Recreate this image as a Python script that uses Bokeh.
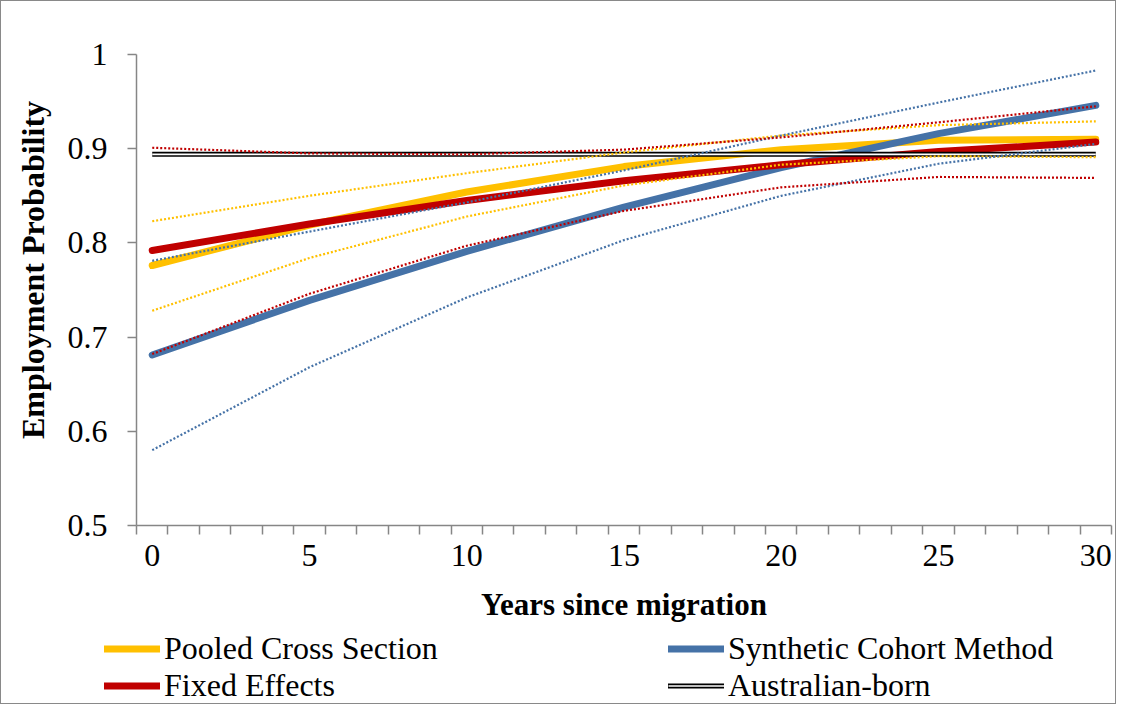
from bokeh.plotting import figure
from bokeh.models import Range1d, FixedTicker, Legend, LegendItem, ColumnDataSource
from bokeh.embed import file_html
from bokeh.resources import INLINE

# ---------------- data ----------------
years = [0, 5, 10, 15, 20, 25, 30]

pooled = [0.776, 0.819, 0.854, 0.881, 0.899, 0.909, 0.910]
pooled_hi = [0.823, 0.850, 0.874, 0.896, 0.914, 0.925, 0.929]
pooled_lo = [0.728, 0.784, 0.828, 0.861, 0.883, 0.892, 0.891]

synthetic = [0.681, 0.739, 0.791, 0.838, 0.880, 0.916, 0.946]
synthetic_hi = [0.781, 0.812, 0.843, 0.877, 0.914, 0.949, 0.983]
synthetic_lo = [0.580, 0.668, 0.742, 0.803, 0.850, 0.884, 0.905]

fixed = [0.792, 0.820, 0.845, 0.866, 0.883, 0.897, 0.907]
fixed_hi = [0.901, 0.895, 0.894, 0.899, 0.912, 0.928, 0.945]
fixed_lo = [0.682, 0.746, 0.797, 0.834, 0.859, 0.870, 0.869]

australian = [0.894, 0.894, 0.894, 0.894, 0.894, 0.894, 0.894]

x_tick_values = [0, 5, 10, 15, 20, 25, 30]
y_tick_values = [0.5, 0.6, 0.7, 0.8, 0.9, 1.0]
y_tick_labels = {0.5: "0.5", 0.6: "0.6", 0.7: "0.7", 0.8: "0.8", 0.9: "0.9", 1.0: "1"}

series_names = ["Pooled Cross Section", "Synthetic Cohort Method",
                "Fixed Effects", "Australian-born"]
x_title = "Years since migration"
y_title = "Employment Probability"

YELLOW = "#FFC000"
BLUE = "#4572A7"
RED = "#C00000"
AXIS = "#868686"
BORDER = "1px solid #898989"
FONT = "Liberation Serif"

src = ColumnDataSource(dict(
    x=years, pooled=pooled, pooled_hi=pooled_hi, pooled_lo=pooled_lo,
    synthetic=synthetic, synthetic_hi=synthetic_hi, synthetic_lo=synthetic_lo,
    fixed=fixed, fixed_hi=fixed_hi, fixed_lo=fixed_lo, australian=australian,
))

# ---------------- chart ----------------
p = figure(width=1116, height=630, output_backend="svg", toolbar_location=None,
           x_range=Range1d(-0.5, 30.5), y_range=Range1d(0.5, 1.0),
           min_border_left=135, min_border_right=6, min_border_top=53,
           min_border_bottom=106)
p.styles = {"border-top": BORDER, "border-left": BORDER, "border-right": BORDER}
p.outline_line_color = None
p.grid.visible = False
p.background_fill_color = "white"
p.border_fill_color = "white"

p.line("x", "pooled", source=src, line_color=YELLOW, line_width=7, line_cap="round")
p.line("x", "synthetic", source=src, line_color=BLUE, line_width=7, line_cap="round")
p.line("x", "fixed", source=src, line_color=RED, line_width=7, line_cap="round")
p.line("x", "australian", source=src, line_color="black", line_width=5)
p.line("x", "australian", source=src, line_color="white", line_width=1.6)

for col, c in [("pooled_hi", YELLOW), ("pooled_lo", YELLOW),
               ("synthetic_hi", BLUE), ("synthetic_lo", BLUE),
               ("fixed_hi", RED), ("fixed_lo", RED)]:
    p.line("x", col, source=src, line_color=c, line_width=2.2, line_dash="2 2")

xa = p.xaxis[0]
xa.ticker = FixedTicker(ticks=x_tick_values,
                        minor_ticks=[i - 0.5 for i in range(0, 32)])
xa.major_tick_line_color = None
xa.minor_tick_line_color = AXIS
xa.minor_tick_line_width = 1.5
xa.minor_tick_in = 0
xa.minor_tick_out = 9
xa.axis_line_color = AXIS
xa.axis_line_width = 1.5
xa.major_label_text_font = FONT
xa.major_label_text_font_size = "32px"
xa.major_label_text_color = "black"
xa.major_label_standoff = 10
xa.axis_label = x_title
xa.axis_label_text_font = FONT
xa.axis_label_text_font_style = "bold"
xa.axis_label_text_font_size = "31px"
xa.axis_label_text_color = "black"
xa.axis_label_standoff = 18

ya = p.yaxis[0]
ya.ticker = FixedTicker(ticks=y_tick_values, minor_ticks=[])
ya.major_label_overrides = y_tick_labels
ya.major_tick_line_color = AXIS
ya.major_tick_line_width = 1.5
ya.major_tick_in = 0
ya.major_tick_out = 9
ya.minor_tick_line_color = None
ya.axis_line_color = AXIS
ya.axis_line_width = 1.5
ya.major_label_text_font = FONT
ya.major_label_text_font_size = "32px"
ya.major_label_text_color = "black"
ya.major_label_standoff = 20
ya.axis_label = "\u00a0" * 5 + y_title
ya.axis_label_text_font = FONT
ya.axis_label_text_font_style = "bold"
ya.axis_label_text_font_size = "32px"
ya.axis_label_text_color = "black"
ya.axis_label_standoff = 14

# ---------------- legend strip (separate root, drawn under the chart) ----------------
lg = figure(width=1116, height=74, output_backend="svg", toolbar_location=None,
            x_axis_type=None, y_axis_type=None, min_border=0,
            min_border_left=0, min_border_right=0, min_border_top=0,
            min_border_bottom=0, x_range=Range1d(100, 101), y_range=Range1d(100, 101))
lg.styles = {"border-bottom": BORDER, "border-left": BORDER, "border-right": BORDER}
lg.outline_line_color = None
lg.grid.visible = False
lg.border_fill_color = "white"

# one-point lines: they draw nothing themselves, they only carry the legend styles
k_pool = lg.line(years[:1], pooled[:1], line_color=YELLOW, line_width=7, line_cap="round")
k_syn = lg.line(years[:1], synthetic[:1], line_color=BLUE, line_width=7, line_cap="round")
k_fix = lg.line(years[:1], fixed[:1], line_color=RED, line_width=7, line_cap="round")
k_aus_b = lg.line(years[:1], australian[:1], line_color="black", line_width=5, line_cap="round")
k_aus_w = lg.line(years[:1], australian[:1], line_color="white", line_width=1.6)

def make_legend(items, loc):
    L = Legend(items=items, location=loc, orientation="vertical",
               label_text_font=FONT, label_text_font_size="32px",
               label_text_color="black", glyph_width=56, glyph_height=37,
               label_height=37, label_standoff=4, spacing=0, padding=0,
               margin=0, border_line_color=None, background_fill_alpha=0)
    lg.add_layout(L, "center")

make_legend([LegendItem(label=series_names[0], renderers=[k_pool]),
             LegendItem(label=series_names[2], renderers=[k_fix])], (103, 0))
make_legend([LegendItem(label=series_names[1], renderers=[k_syn]),
             LegendItem(label=series_names[3], renderers=[k_aus_b, k_aus_w])], (667, 0))

open("out.html", "w").write(file_html([p, lg], INLINE))
